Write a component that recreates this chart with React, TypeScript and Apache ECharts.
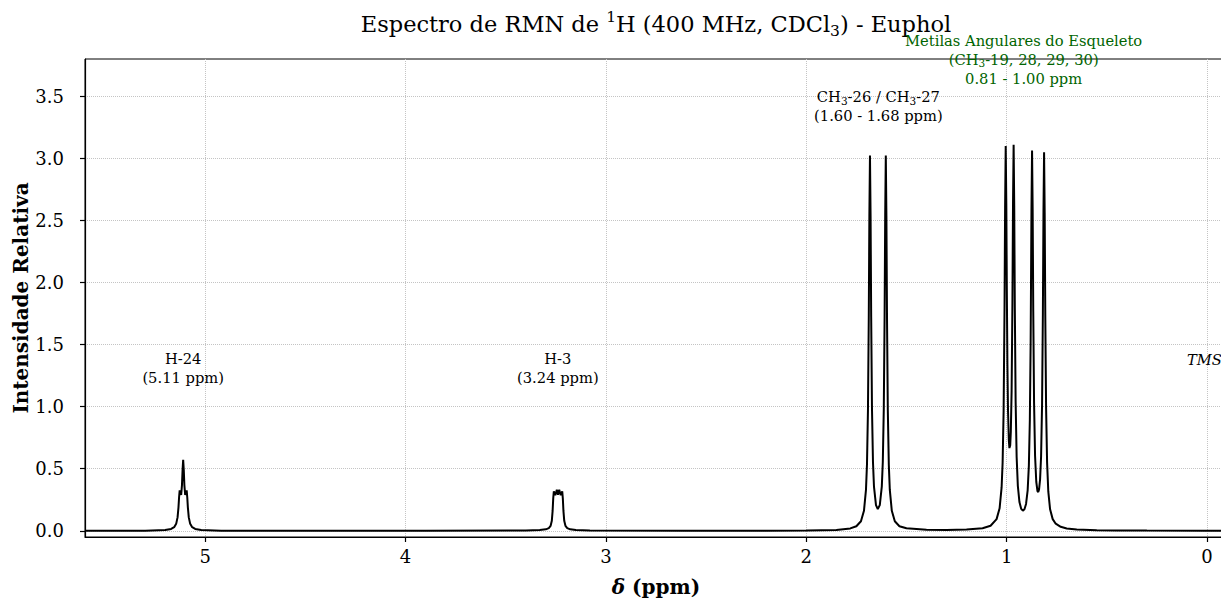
import React, { useEffect, useRef } from "react";
import * as echarts from "echarts";

// [ppm, intensity]
const h24Points: number[][] = [
  [5.6, 0.0], [5.4, 0.001], [5.3, 0.001], [5.2, 0.006], [5.17, 0.015], [5.155, 0.029],
  [5.145, 0.056], [5.138, 0.108], [5.1335, 0.187], [5.1305, 0.268], [5.1275, 0.326],
  [5.1245, 0.312], [5.12, 0.288], [5.116, 0.368], [5.113, 0.49], [5.11, 0.572],
  [5.107, 0.49], [5.104, 0.368], [5.1, 0.288], [5.0955, 0.312], [5.0925, 0.326],
  [5.0895, 0.268], [5.0865, 0.187], [5.082, 0.108], [5.075, 0.056], [5.065, 0.029],
  [5.05, 0.015], [5.02, 0.006], [4.92, 0.001], [4.5, 0.0],
];

const h3Points: number[][] = [
  [3.9, 0.0], [3.4, 0.002], [3.33, 0.006], [3.3, 0.012], [3.285, 0.022], [3.276, 0.04],
  [3.27, 0.08], [3.266, 0.16], [3.263, 0.26], [3.26, 0.318], [3.2525, 0.287],
  [3.245, 0.33], [3.239, 0.29], [3.233, 0.33], [3.2255, 0.287], [3.218, 0.318],
  [3.215, 0.26], [3.212, 0.16], [3.208, 0.08], [3.202, 0.04], [3.193, 0.022],
  [3.178, 0.012], [3.15, 0.006], [3.08, 0.002], [2.6, 0.0],
];

const ch3Points: number[][] = [
  [2.2, 0.001], [2.0, 0.002], [1.85, 0.007], [1.78, 0.019], [1.75, 0.037], [1.727, 0.077],
  [1.712, 0.161], [1.702, 0.329], [1.697, 0.533], [1.692, 0.976], [1.688, 1.716],
  [1.685, 2.538], [1.682, 3.022], [1.679, 2.541], [1.676, 1.723], [1.672, 0.987],
  [1.667, 0.552], [1.662, 0.355], [1.652, 0.207], [1.643, 0.175], [1.633, 0.207],
  [1.623, 0.355], [1.618, 0.552], [1.613, 0.987], [1.609, 1.723], [1.606, 2.541],
  [1.603, 3.022], [1.6, 2.538], [1.597, 1.716], [1.593, 0.976], [1.588, 0.533],
  [1.583, 0.329], [1.573, 0.161], [1.558, 0.077], [1.535, 0.037], [1.5, 0.02],
  [1.4, 0.008], [1.3, 0.007], [1.2, 0.01], [1.12, 0.021],
];

const methylPoints: number[][] = [
  [1.08, 0.041], [1.05, 0.094], [1.035, 0.181], [1.025, 0.349], [1.02, 0.546],
  [1.015, 0.962], [1.0105, 1.775], [1.0075, 2.605], [1.0045, 3.1], [1.0015, 2.632],
  [0.999, 1.954], [0.996, 1.335], [0.993, 0.969], [0.989, 0.731], [0.986, 0.666],
  [0.984, 0.662], [0.982, 0.69], [0.979, 0.798], [0.975, 1.129], [0.971, 1.837],
  [0.968, 2.64], [0.965, 3.11], [0.962, 2.617], [0.959, 1.789], [0.955, 1.042],
  [0.95, 0.596], [0.944, 0.362], [0.936, 0.232], [0.927, 0.176], [0.919, 0.162],
  [0.911, 0.173], [0.903, 0.216], [0.895, 0.326], [0.889, 0.523], [0.884, 0.897],
  [0.88, 1.526], [0.876, 2.578], [0.873, 3.063], [0.87, 2.583], [0.867, 1.766],
  [0.863, 1.034], [0.858, 0.604], [0.852, 0.395], [0.846, 0.32], [0.842, 0.312],
  [0.838, 0.333], [0.833, 0.413], [0.828, 0.597], [0.823, 1.024], [0.819, 1.755],
  [0.816, 2.57], [0.813, 3.049], [0.81, 2.562], [0.807, 1.739], [0.803, 0.996],
  [0.798, 0.551], [0.792, 0.317], [0.783, 0.173], [0.77, 0.094], [0.755, 0.057],
  [0.73, 0.032], [0.7, 0.019], [0.65, 0.011], [0.55, 0.005], [0.45, 0.003],
  [0.3, 0.0015], [0.0, 0.0006], [-0.1, 0.0004],
];

const xTicks = [0, 1, 2, 3, 4, 5];
const yTicks = [0, 0.5, 1, 1.5, 2, 2.5, 3, 3.5];

const annotationTexts = [
  "H-24\n(5.11 ppm)",
  "H-3\n(3.24 ppm)",
  "CH₃-26 / CH₃-27\n(1.60 - 1.68 ppm)",
  "Metilas Angulares do Esqueleto\n(CH₃-19, 28, 29, 30)\n0.81 - 1.00 ppm",
  "TMS",
];
const annotationPpm = [5.11, 3.24, 1.64, 0.915, 0.013];
const annotationIntensity = [1.31, 1.31, 3.42, 3.8, 1.38];
const annotationColors = ["#000000", "#000000", "#000000", "#006400", "#000000"];
const annotationItalic = [false, false, false, false, true];

const TITLE = "Espectro de RMN de {sup|1}H (400 MHz, CDCl{sub|3}) - Euphol";
const FONT = "'DejaVu Serif', serif";

export default function App() {
  const ref = useRef<HTMLDivElement>(null);

  useEffect(() => {
    if (!ref.current) return;
    const chart = echarts.init(ref.current, null, { renderer: "svg" });
    const spectrum = [...h24Points, ...h3Points, ...ch3Points, ...methylPoints];

    chart.setOption({
      animation: false,
      backgroundColor: "#ffffff",
      grid: {
        left: 85,
        top: 59,
        width: 1142,
        height: 478,
        containLabel: false,
        outerBoundsMode: "none",
        show: true,
        borderColor: "#000",
        borderWidth: 1,
        backgroundColor: "transparent",
      },
      graphic: [
        {
          type: "text",
          x: 656,
          y: 24,
          style: {
            text: TITLE,
            fontFamily: FONT,
            fontSize: 22.5,
            lineHeight: 30,
            fill: "#000",
            align: "center",
            verticalAlign: "middle",
            rich: {
              sup: { fontFamily: FONT, fontSize: 15.5, lineHeight: 15, verticalAlign: "top" },
              sub: { fontFamily: FONT, fontSize: 15.5, lineHeight: 13, verticalAlign: "bottom" },
            },
          },
        },
      ],
      xAxis: {
        type: "value",
        inverse: true,
        min: -0.1,
        max: 5.6,
        axisLine: { show: true, onZero: false, lineStyle: { color: "#000", width: 1.2 } },
        axisTick: {
          show: true,
          inside: false,
          length: 5,
          customValues: xTicks,
          lineStyle: { color: "#000", width: 1.2 },
        },
        axisLabel: {
          customValues: xTicks,
          fontFamily: FONT,
          fontSize: 18,
          color: "#000",
          margin: 10,
          formatter: (v: number) => String(v),
        },
        splitLine: {
          show: true,
          lineStyle: { type: "dotted", color: "#c4c4c4", width: 1 },
        },
        name: "{i|δ} (ppm)",
        nameLocation: "middle",
        nameGap: 39,
        nameTextStyle: {
          fontFamily: FONT,
          fontSize: 20,
          fontWeight: "bold",
          color: "#000",
          lineHeight: 22,
          rich: {
            i: { fontFamily: FONT, fontSize: 20, fontStyle: "italic", color: "#000", lineHeight: 22 },
          },
        },
      },
      yAxis: {
        type: "value",
        min: -0.05,
        max: 3.8,
        axisLine: { show: true, onZero: false, lineStyle: { color: "#000", width: 1.2 } },
        axisTick: {
          show: true,
          inside: false,
          length: 5,
          customValues: yTicks,
          lineStyle: { color: "#000", width: 1.2 },
        },
        axisLabel: {
          customValues: yTicks,
          fontFamily: FONT,
          fontSize: 18,
          color: "#000",
          margin: 21,
          formatter: (v: number) => v.toFixed(1),
        },
        splitLine: {
          show: true,
          lineStyle: { type: "dotted", color: "#c4c4c4", width: 1 },
        },
        name: "Intensidade Relativa",
        nameLocation: "middle",
        nameMoveOverlap: false,
        nameGap: 53,
        nameTextStyle: {
          fontFamily: FONT,
          fontSize: 20,
          fontWeight: "bold",
          color: "#000",
          lineHeight: 22,
        },
      },
      series: [
        {
          type: "line",
          data: spectrum,
          showSymbol: false,
          symbol: "none",
          clip: true,
          lineStyle: { color: "#000", width: 2 },
          silent: true,
        },
        {
          type: "scatter",
          clip: false,
          silent: true,
          symbolSize: 1,
          itemStyle: { color: "transparent", opacity: 1 },
          data: annotationTexts.map((t, i) => ({
            name: t,
            value: [annotationPpm[i], annotationIntensity[i]],
            label: {
              color: annotationColors[i],
              fontStyle: annotationItalic[i] ? "italic" : "normal",
            },
          })),
          label: {
            show: true,
            opacity: 1,
            position: "inside",
            formatter: (p: any) => String(p.name).replace(/₃/g, "{sub|3}"),
            fontFamily: FONT,
            fontSize: 14.7,
            lineHeight: 19,
            align: "center",
            verticalAlign: "middle",
            rich: {
              sub: { fontFamily: FONT, fontSize: 10.5, lineHeight: 12, verticalAlign: "bottom" },
            },
          },
        },
      ],
    });

    return () => chart.dispose();
  }, []);

  return (
    <div
      ref={ref}
      style={{ position: "fixed", left: 0, top: 0, width: 1221, height: 599, background: "#fff" }}
    />
  );
}
